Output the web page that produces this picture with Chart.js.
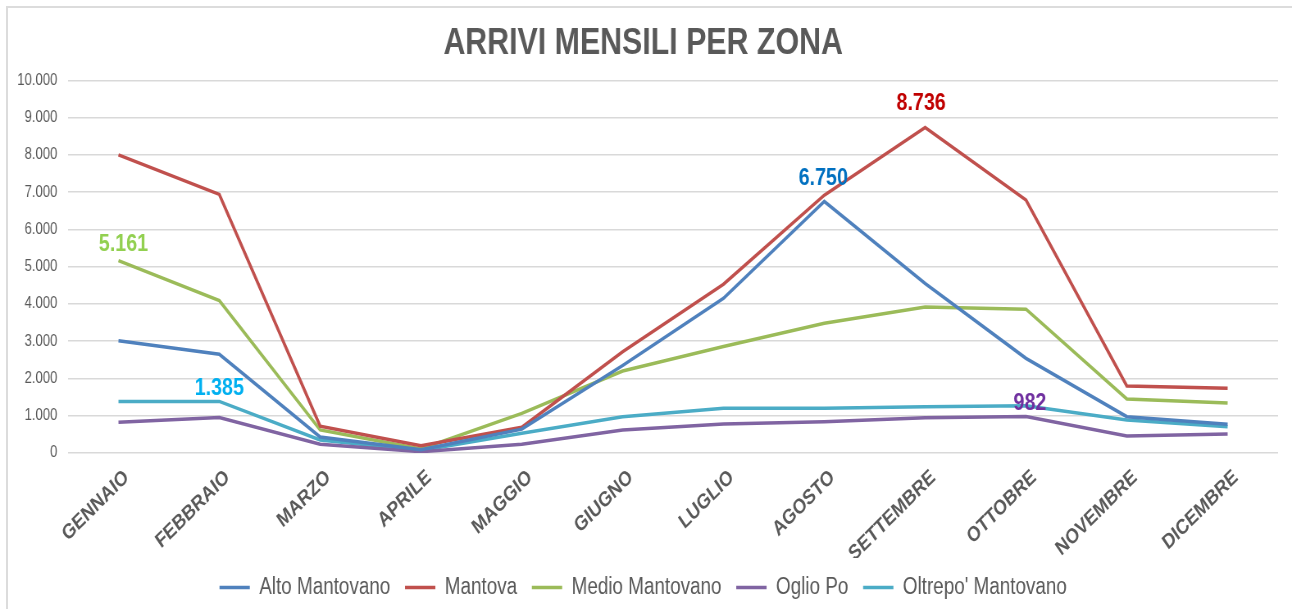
<!DOCTYPE html>
<html>
<head>
<meta charset="utf-8">
<script src="https://cdn.jsdelivr.net/npm/chart.js@4"></script>
<style>
  html, body { margin: 0; padding: 0; background: #fff; overflow: hidden; }
  #frame { position: absolute; left: 6px; top: 6px; width: 1300px; height: 620px; border: 2px solid #dcdcdc; box-sizing: border-box; }
  /* the reference uses a narrow face: draw with Arial metrics and squeeze horizontally */
  #chart { position: absolute; left: 0; top: 0; transform-origin: 0 0; }
</style>
</head>
<body>
<div id="frame"></div>
<canvas id="chart" width="1576" height="609"></canvas>
<script>
const months = ['GENNAIO', 'FEBBRAIO', 'MARZO', 'APRILE', 'MAGGIO', 'GIUGNO', 'LUGLIO', 'AGOSTO', 'SETTEMBRE', 'OTTOBRE', 'NOVEMBRE', 'DICEMBRE'];
const seriesNames = ['Alto Mantovano', 'Mantova', 'Medio Mantovano', 'Oglio Po', "Oltrepo' Mantovano"];

const altoMantovano = [3010, 2650, 430, 90, 640, 2350, 4150, 6750, 4550, 2540, 975, 770];
const mantova = [8000, 6940, 720, 196, 690, 2720, 4530, 6920, 8736, 6790, 1800, 1740];
const medioMantovano = [5161, 4090, 620, 110, 1065, 2200, 2860, 3480, 3920, 3860, 1450, 1340];
const oglioPo = [823, 950, 233, 35, 233, 617, 778, 840, 948, 982, 456, 510];
const oltrepoMantovano = [1380, 1385, 350, 70, 528, 975, 1198, 1200, 1243, 1270, 885, 706];

const yTicks = [0, 1000, 2000, 3000, 4000, 5000, 6000, 7000, 8000, 9000, 10000];

// which points carry a value label: [series index, month index]
const labelledPoints = [[2, 0], [4, 1], [0, 7], [1, 8], [3, 9]];

const lineColors = ['#4F81BD', '#C0504D', '#9BBB59', '#8064A2', '#4BACC6'];
const labelColors = ['#92D050', '#00B0F0', '#0070C0', '#C00000', '#7030A0'];
const labelShift = [[5, -16], [0, -13], [-1, -23], [-4, -24], [4, -13]];

const SQUEEZE = 1292 / 1576;
const FONT = '"Liberation Sans", Arial, sans-serif';
const GREY = '#595959';

document.getElementById('chart').style.transform = 'scaleX(' + SQUEEZE + ')';

function fmt(v) {
  return String(Math.round(v)).replace(/\B(?=(\d{3})+(?!\d))/g, '.');
}

const allSeries = [altoMantovano, mantova, medioMantovano, oglioPo, oltrepoMantovano];

const valueLabels = {
  id: 'valueLabels',
  afterDatasetsDraw(chart) {
    const ctx = chart.ctx;
    ctx.save();
    ctx.font = 'bold 24px ' + FONT;
    ctx.textAlign = 'center';
    ctx.textBaseline = 'middle';
    labelledPoints.forEach(([s, i], k) => {
      const pt = chart.getDatasetMeta(s).data[i];
      ctx.fillStyle = labelColors[k];
      ctx.fillText(fmt(allSeries[s][i]), pt.x + labelShift[k][0] / SQUEEZE, pt.y + labelShift[k][1]);
    });
    ctx.restore();
  }
};

new Chart(document.getElementById('chart').getContext('2d'), {
  type: 'line',
  data: {
    labels: months,
    datasets: allSeries.map((data, i) => ({
      label: seriesNames[i],
      data: data,
      borderColor: lineColors[i],
      backgroundColor: lineColors[i],
      borderWidth: 3.5,
      pointRadius: 0,
      tension: 0,
      fill: false
    }))
  },
  options: {
    responsive: false,
    animation: false,
    layout: { padding: { left: 10, right: 17, top: 0, bottom: 0 } },
    scales: {
      x: {
        offset: true,
        grid: { display: false, drawTicks: false },
        border: { display: false },
        ticks: {
          autoSkip: false,
          maxRotation: 39.4,
          minRotation: 39.4,
          padding: 12,
          labelOffset: 10,
          color: GREY,
          font: { family: FONT, size: 21, weight: 'bold' }
        },
        afterFit(scale) {
          scale.height = 105;
          scale.paddingLeft = 0;
          scale.paddingRight = 0;
        }
      },
      y: {
        min: 0,
        max: 10000,
        grid: { color: '#d9d9d9', lineWidth: 1.5, drawTicks: false },
        border: { display: false },
        afterBuildTicks(scale) { scale.ticks = yTicks.map(v => ({ value: v })); },
        ticks: {
          padding: 13,
          color: GREY,
          font: { family: FONT, size: 16 },
          callback: v => fmt(v)
        },
        afterFit(scale) { scale.width = 73; }
      }
    },
    plugins: {
      title: {
        display: true,
        text: 'ARRIVI MENSILI PER ZONA',
        color: GREY,
        font: { family: FONT, size: 37, weight: 'bold' },
        padding: { top: 22, bottom: 14 }
      },
      legend: {
        position: 'bottom',
        labels: {
          usePointStyle: true,
          pointStyle: 'line',
          pointStyleWidth: 37,
          padding: 18,
          color: GREY,
          font: { family: FONT, size: 23 }
        }
      },
      tooltip: { enabled: false }
    }
  },
  plugins: [valueLabels]
});
</script>
</body>
</html>
